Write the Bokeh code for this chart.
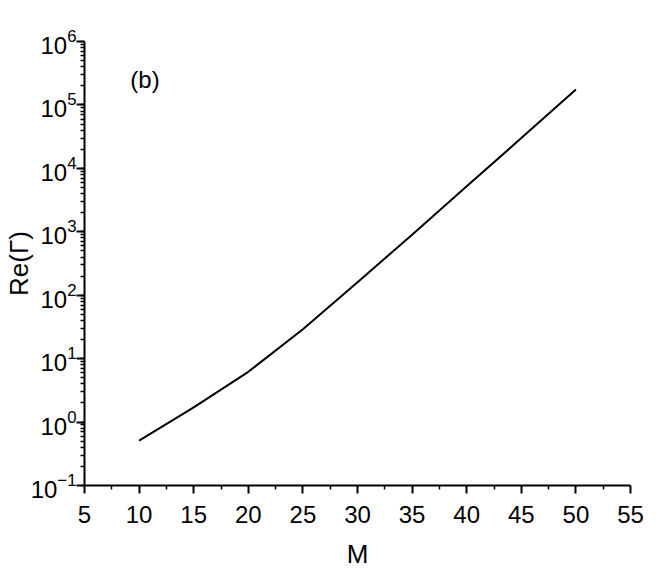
from bokeh.plotting import figure
from bokeh.models import FixedTicker, Label, Range1d
from bokeh.embed import file_html
from bokeh.resources import INLINE

# Data
M = [10, 15, 20, 25, 30, 35, 40, 45, 50]
re_gamma = [0.51, 1.7, 6.2, 29, 160, 900, 5200, 3.0e4, 1.75e5]

x_ticks = [5, 10, 15, 20, 25, 30, 35, 40, 45, 50, 55]
y_exponents = [-1, 0, 1, 2, 3, 4, 5, 6]
y_ticks = [10.0 ** e for e in y_exponents]
y_minor = [m * 10.0 ** e for e in y_exponents[:-1] for m in range(1, 10)] + [1e6]

FONT = "Liberation Sans"

p = figure(frame_width=546, frame_height=444, y_axis_type="log",
           x_range=Range1d(5, 55), y_range=Range1d(1e-1, 1e6),
           output_backend="svg", toolbar_location=None,
           min_border_left=79, min_border_right=24,
           min_border_top=41, min_border_bottom=85)

p.line(M, re_gamma, line_color="black", line_width=2)

p.xgrid.visible = False
p.ygrid.visible = False
p.outline_line_color = None
p.background_fill_color = "white"
p.border_fill_color = "white"

xa = p.xaxis[0]
xa.ticker = FixedTicker(ticks=x_ticks,
                        minor_ticks=[t + 2.5 for t in x_ticks[:-1]])
xa.axis_label = "M"
ya = p.yaxis[0]
ya.ticker = FixedTicker(ticks=y_ticks, minor_ticks=y_minor)
ya.axis_label = "Re(Γ)"

for ax in (xa, ya):
    ax.axis_line_width = 2
    ax.axis_line_color = "black"
    ax.major_tick_line_width = 2
    ax.minor_tick_line_width = 1.5
    ax.major_tick_line_color = "black"
    ax.minor_tick_line_color = "black"
    ax.major_tick_in = 0
    ax.minor_tick_in = 0
    ax.major_tick_out = 8
    ax.minor_tick_out = 4
    ax.major_label_text_font = FONT
    ax.major_label_text_font_size = "24px"
    ax.major_label_text_color = "black"
    ax.axis_label_text_font = FONT
    ax.axis_label_text_font_size = "26px"
    ax.axis_label_text_font_style = "normal"
    ax.axis_label_text_color = "black"

xa.major_label_standoff = 12
xa.axis_label_standoff = 13
ya.major_label_standoff = 0
ya.axis_label_standoff = -6

p.add_layout(Label(x=9.2, y=2.5e5, text="(b)", text_font=FONT,
                   text_font_size="24px", text_baseline="middle",
                   text_color="black"))

open("out.html", "w").write(file_html(p, INLINE))
